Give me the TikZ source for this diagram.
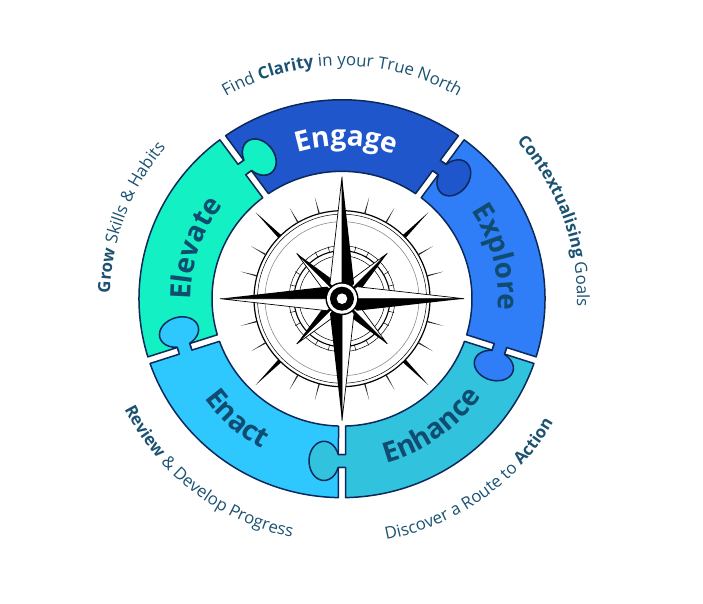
\documentclass[tikz,border=0pt]{standalone}
\usepackage{fontspec}
\usepackage{xcolor}
\setmainfont{Open Sans}
\usetikzlibrary{decorations.text}
\definecolor{RingLine}{HTML}{0B2A5B}
\definecolor{EngageCol}{HTML}{2056CC}
\definecolor{ExploreCol}{HTML}{2F7EF7}
\definecolor{EnhanceCol}{HTML}{31C2DE}
\definecolor{EnactCol}{HTML}{2EC8FF}
\definecolor{ElevateCol}{HTML}{13F0C3}
\definecolor{WordCol}{HTML}{0F4C6F}
\definecolor{CaptionCol}{HTML}{1B5272}
\newcommand{\capreg}{\fontsize{16.8}{20}\selectfont\mdseries}
\newcommand{\capbold}{\fontsize{16.8}{20}\selectfont\bfseries}
\newcommand{\wordfont}{\fontsize{28}{30}\selectfont\bfseries}
\tikzset{
	piece/.style={draw=RingLine,line width=1.5pt,line join=round},
	onarc/.style 2 args={decorate,decoration={text along path,text={#2},text align=center,text color=#1}},
	needle/.style={draw=black,line width=0.7pt,line join=miter,fill=white},
	needledark/.style={fill=black}
}
\begin{document}
\begin{tikzpicture}[x=1pt,y=1pt]
	\useasboundingbox (-342,-305.3) rectangle (361,298.7);
	% ring of pieces
	\begin{scope}[yscale=0.98]
		\foreach \piececol/\rot in {EngageCol/54,ExploreCol/-18,EnhanceCol/-90,EnactCol/-162,ElevateCol/-234}
		\draw[piece,fill=\piececol,rotate=\rot] (129.95,3.5) -- (159,3.5) -- (159,-3.8)
			arc[start angle=109,end angle=431,x radius=20,y radius=15] -- (172,3.5)
			-- (1:203) arc[start angle=1,end angle=71,radius=203]
			-- (70.46:130) arc[start angle=70.46,end angle=1.54,radius=130] -- cycle;
		% tabs again, above the next piece
		\foreach \piececol/\rot in {EngageCol/54,ExploreCol/-18,EnhanceCol/-90,EnactCol/-162,ElevateCol/-234}
		\draw[piece,fill=\piececol,rotate=\rot] (159,2) -- (159,-3.8)
			arc[start angle=109,end angle=431,x radius=20,y radius=15] -- (172,2);
	\end{scope}
	% words on the pieces
	\path[onarc={white}{|\wordfont|Engage}] (148:153) arc[start angle=148,end angle=29,radius=153];
	\path[onarc={WordCol}{|\wordfont|Explore}] (75:156) arc[start angle=75,end angle=-45,radius=156];
	\path[onarc={WordCol}{|\wordfont|Enhance}] (-115:170) arc[start angle=-115,end angle=5,radius=170];
	\path[onarc={WordCol}{|\wordfont|Enact}] (169:170) arc[start angle=169,end angle=289,radius=170];
	\path[onarc={WordCol}{|\wordfont|Elevate}] (221:151) arc[start angle=221,end angle=101,radius=151];
	% captions round the ring
	\path[onarc={CaptionCol}{|\capreg|Find |\capbold|Clarity|\capreg| in your True North}] (150:233) arc[start angle=150,end angle=30,radius=233];
	\path[onarc={CaptionCol}{|\capbold|Contextualising|\capreg| Goals}] (80:235) arc[start angle=80,end angle=-40,radius=235];
	\path[onarc={CaptionCol}{|\capreg|Discover a Route to |\capbold|Action}] (-115:245) arc[start angle=-115,end angle=5,radius=245];
	\path[onarc={CaptionCol}{|\capbold|Review|\capreg| {\&} Develop Progress}] (172.5:244) arc[start angle=172.5,end angle=292.5,radius=244];
	\path[onarc={CaptionCol}{|\capbold|Grow|\capreg| Skills {\&} Habits}] (219:232) arc[start angle=219,end angle=99,radius=232];
	% compass rings
	\draw[line width=1.2pt] (0,0) circle (88);
	\draw[line width=0.5pt] (0,0) circle (84.5);
	\draw[line width=0.6pt,black!45] (0,0) circle (77);
	\draw[line width=0.5pt] (0,0) circle (53);
	\draw[line width=1.1pt] (0,0) circle (48);
	\draw[line width=0.5pt] (0,0) circle (43);
	% ticks
	\foreach \ang in {15,30,60,75,105,120,150,165,195,210,240,255,285,300,330,345}
	\fill[rotate=\ang,black!85] (88,-0.7) -- (105,0) -- (88,0.7) -- cycle;
	\foreach \ang in {45,135,225,315}
	\fill[rotate=\ang] (88,-2) -- (122,0) -- (88,2) -- cycle;
	\foreach \ang in {0,15,...,345}
	\draw[line width=0.5pt] (\ang:48) -- (\ang:54);
	% needles
	\foreach \ang in {45,135,225,315}{
		\draw[needle,rotate=\ang] (0,0) -- (12,8) -- (64,0) -- cycle;
		\fill[needledark,rotate=\ang] (0,0) -- (12,-8) -- (64,0) -- cycle;
	}
	\foreach \ang in {0,90,180,270}{
		\draw[needle,rotate=\ang] (0,0) -- (15,12) -- (122,0) -- cycle;
		\fill[needledark,rotate=\ang] (0,0) -- (15,-12) -- (122,0) -- cycle;
	}
	% hub
	\fill (0,0) circle (16.5);
	\fill[white] (0,0) circle (15);
	\fill (0,0) circle (12);
	\fill[white] (0,0) circle (5.3);
\end{tikzpicture}
\end{document}
